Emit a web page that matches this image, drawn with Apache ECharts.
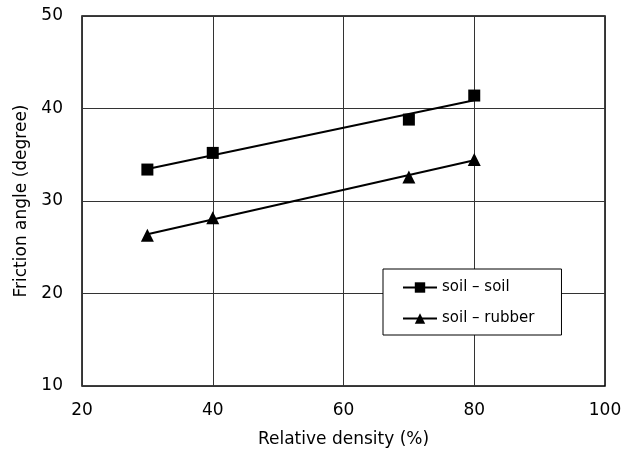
<!DOCTYPE html>
<html>
<head>
<meta charset="utf-8">
<script src="https://cdn.jsdelivr.net/npm/echarts@6/dist/echarts.min.js"></script>
<style>
  html, body { margin: 0; padding: 0; background: #fff; }
  #chart { width: 635px; height: 453px; }
</style>
</head>
<body>
<div id="chart"></div>
<script>
// measured points
const density = [30, 40, 70, 80]
const soilSoil = [33.4, 35.2, 38.8, 41.4]
const soilRubber = [26.3, 28.2, 32.6, 34.5]
// trend lines, ends
const fitX = [30, 80]
const fitSoil = [33.45, 40.9]
const fitRubber = [26.4, 34.4]

const xTicks = [20, 40, 60, 80, 100]
const yTicks = [10, 20, 30, 40, 50]

const font = 'DejaVu Sans'
const pair = (xs, ys) => xs.map((x, i) => [x, ys[i]])

const chart = echarts.init(document.getElementById('chart'))
const option = {
  animation: false,
  backgroundColor: '#fff',
  grid: { left: 82, right: 30, top: 16, bottom: 65, show: true, borderColor: '#000', borderWidth: 1.5 },
  xAxis: {
    type: 'value', min: xTicks[0], max: xTicks[xTicks.length - 1], interval: 20,
    name: 'Relative density (%)', nameLocation: 'middle', nameGap: 45,
    nameTextStyle: { fontFamily: font, fontSize: 17, color: '#000' },
    axisLine: { show: false },
    axisTick: { show: false },
    axisLabel: { margin: 16, fontFamily: font, fontSize: 17, color: '#000' },
    splitLine: { lineStyle: { color: '#333', width: 1 } }
  },
  yAxis: {
    type: 'value', min: yTicks[0], max: yTicks[yTicks.length - 1], interval: 10,
    name: 'Friction angle (degree)', nameLocation: 'middle', nameGap: 48,
    nameTextStyle: { fontFamily: font, fontSize: 17, color: '#000' },
    axisLine: { show: false },
    axisTick: { show: false },
    axisLabel: { margin: 19, fontFamily: font, fontSize: 17, color: '#000' },
    splitLine: { lineStyle: { color: '#333', width: 1 } }
  },
  legend: {
    orient: 'vertical', left: 383, top: 269,
    backgroundColor: '#fff', borderColor: '#000', borderWidth: 1,
    padding: [11, 27, 9, 19], itemGap: 16, itemWidth: 34, itemHeight: 13,
    textStyle: { fontFamily: font, fontSize: 15, color: '#000' },
    data: ['soil – soil', 'soil – rubber']
  },
  series: [
    {
      name: 'soil – soil', type: 'line', data: pair(fitX, fitSoil),
      symbol: 'rect', symbolSize: 12, showSymbol: false,
      lineStyle: { color: '#000', width: 2 }, itemStyle: { color: '#000' }
    },
    {
      name: 'soil – soil', type: 'scatter', data: pair(density, soilSoil),
      symbol: 'rect', symbolSize: 12, itemStyle: { color: '#000', opacity: 1 }, z: 3
    },
    {
      name: 'soil – rubber', type: 'line', data: pair(fitX, fitRubber),
      symbol: 'triangle', symbolSize: 13, showSymbol: false,
      lineStyle: { color: '#000', width: 2 }, itemStyle: { color: '#000' }
    },
    {
      name: 'soil – rubber', type: 'scatter', data: pair(density, soilRubber),
      symbol: 'triangle', symbolSize: 13, itemStyle: { color: '#000', opacity: 1 }, z: 3
    }
  ]
}
chart.setOption(option)
</script>
</body>
</html>
